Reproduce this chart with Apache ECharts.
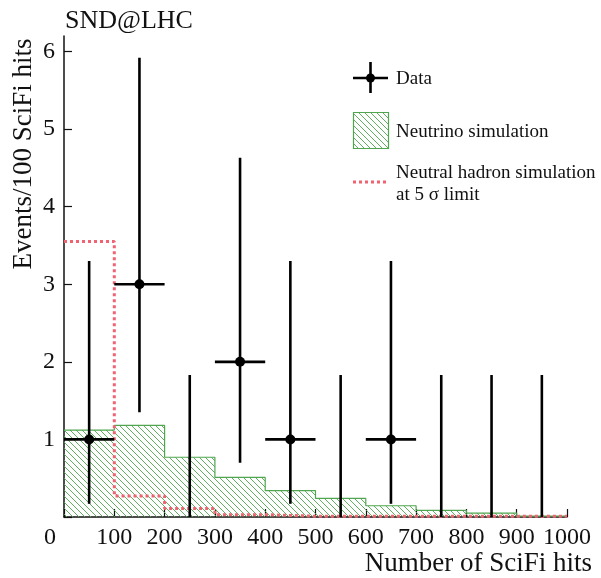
<!DOCTYPE html>
<html><head><meta charset="utf-8">
<script src="https://cdn.jsdelivr.net/npm/echarts@6/dist/echarts.min.js"></script>
<style>html,body{margin:0;padding:0;background:#fff}#c{width:601px;height:578px}</style>
</head><body><div id="c"></div>
<script>
// bin edges / centers
const binEdges = [0,100,200,300,400,500,600,700,800,900,1000];
const binCenters = [50,150,250,350,450,550,650,750,850,950];
// data (events/100 hits) with Poisson intervals
const dataValues = [1,3,0,2,1,0,1,0,0,0];
const dataLow    = [0.17,1.35,0,0.70,0.17,0,0.17,0,0,0];
const dataHigh   = [3.30,5.92,1.83,4.63,3.30,1.83,3.30,1.83,1.83,1.83];
// neutrino simulation histogram
const neutrinoSim = [1.12,1.18,0.77,0.51,0.34,0.24,0.145,0.086,0.05,0.01];
// neutral hadron simulation at 5 sigma limit
const hadronSim = [3.55,0.27,0.11,0.03,0.01,0.01,0.01,0.01,0.01,0.01];
const yTicks = [1,2,3,4,5,6];

const FONT = '"Liberation Serif","DejaVu Serif",serif';
const GREEN = '#4fa64f';
const RED = '#ef6373';

function hatch(){
  const c = document.createElement('canvas');
  c.width = 6; c.height = 6;
  const g = c.getContext('2d');
  g.strokeStyle = GREEN; g.lineWidth = 0.9;
  g.beginPath();
  g.moveTo(-1,-1); g.lineTo(7,7);
  g.moveTo(-1,5); g.lineTo(1,7);
  g.moveTo(5,-1); g.lineTo(7,1);
  g.stroke();
  return c;
}
const pat = hatch();

function stepData(vals){
  const d = vals.map((v,i)=>[binEdges[i], v]);
  d.push([binEdges[binEdges.length-1], vals[vals.length-1]]);
  return d;
}

const chart = echarts.init(document.getElementById('c'), null, {renderer:'canvas'});
const errData = binCenters.map((x,i)=>[x, dataValues[i], dataLow[i], dataHigh[i]]);

chart.setOption({
  animation:false,
  grid:{left:64, right:34, top:36, bottom:61, containLabel:false, outerBoundsMode:'none'},
  title:{text:'SND@LHC', left:60, top:3, textStyle:{fontFamily:FONT, fontSize:26, fontWeight:'normal', color:'#111'}},
  xAxis:{type:'value', min:0, max:1000, interval:100,
    name:'Number of SciFi hits', nameLocation:'end', nameGap:0,
    nameTextStyle:{fontFamily:FONT, fontSize:27, color:'#111', align:'right', verticalAlign:'top', padding:[33,-25,0,0]},
    axisLine:{show:true, onZero:false, lineStyle:{color:'#111', width:1.5}},
    axisTick:{show:true, inside:true, length:8, lineStyle:{color:'#111', width:1.2}},
    splitLine:{show:false},
    axisLabel:{fontFamily:FONT, fontSize:24, color:'#111', margin:9,
      formatter:v=> v===0 ? '{z|0}' : String(v),
      rich:{z:{fontFamily:FONT, fontSize:24, color:'#111', padding:[0,28,0,0]}}}
  },
  yAxis:{type:'value', min:0, max:6.2, interval:1,
    axisLine:{show:true, lineStyle:{color:'#111', width:1.5}},
    axisTick:{show:true, inside:true, length:8, lineStyle:{color:'#111', width:1.2}},
    splitLine:{show:false},
    axisLabel:{fontFamily:FONT, fontSize:24, color:'#111', margin:9, showMaxLabel:false,
      formatter:v=> yTicks.indexOf(v)>=0 ? String(v) : ''}
  },
  series:[
    {type:'line', step:'end', data:stepData(neutrinoSim), symbol:'none', z:1,
     lineStyle:{color:GREEN, width:1.2}, areaStyle:{color:{image:pat, repeat:'repeat'}, opacity:1}},
    {type:'line', step:'end', data:stepData(hadronSim), symbol:'none', z:2,
     lineStyle:{color:RED, width:3, type:[3,3]}},
    {type:'custom', z:3, data:errData,
     renderItem:function(params, api){
       const x = api.value(0), y = api.value(1), lo = api.value(2), hi = api.value(3);
       const pTop = api.coord([x, hi]);
       const pBot = api.coord([x, lo]);
       const children = [{type:'line', shape:{x1:pTop[0], y1:pTop[1], x2:pBot[0], y2:pBot[1]}, style:{stroke:'#000', lineWidth:2.6}}];
       if (y > 0){
         const pl = api.coord([x-50, y]), pr = api.coord([x+50, y]);
         children.push({type:'line', shape:{x1:pl[0], y1:pl[1], x2:pr[0], y2:pr[1]}, style:{stroke:'#000', lineWidth:2.6}});
         children.push({type:'circle', shape:{cx:pl[0]+(pr[0]-pl[0])/2, cy:pl[1], r:5}, style:{fill:'#000'}});
       }
       return {type:'group', children};
     }}
  ],
  graphic:[
    {type:'text', x:24, y:154, rotation:Math.PI/2, style:{text:'Events/100 SciFi hits', font:'27px '+FONT, fill:'#111', textAlign:'center', textVerticalAlign:'middle'}},
    {type:'line', shape:{x1:353,y1:78,x2:388,y2:78}, style:{stroke:'#000', lineWidth:2.6}},
    {type:'line', shape:{x1:370.5,y1:62,x2:370.5,y2:93}, style:{stroke:'#000', lineWidth:2.6}},
    {type:'circle', shape:{cx:370.5, cy:78, r:4.5}, style:{fill:'#000'}},
    {type:'text', x:396, y:79, style:{text:'Data', font:'19px '+FONT, fill:'#111', textVerticalAlign:'middle'}},
    {type:'rect', shape:{x:353.5,y:112.5,width:35,height:36}, style:{fill:{image:pat, repeat:'repeat'}, stroke:GREEN, lineWidth:1.2}},
    {type:'text', x:396, y:132, style:{text:'Neutrino simulation', font:'19px '+FONT, fill:'#111', textVerticalAlign:'middle'}},
    {type:'line', shape:{x1:353,y1:182,x2:389,y2:182}, style:{stroke:RED, lineWidth:3, lineDash:[3,3]}},
    {type:'text', x:396, y:173, style:{text:'Neutral hadron simulation', font:'19px '+FONT, fill:'#111', textVerticalAlign:'middle'}},
    {type:'text', x:396, y:195, style:{text:'at 5 \u03c3 limit', font:'19px '+FONT, fill:'#111', textVerticalAlign:'middle'}}
  ]
});
</script></body></html>
